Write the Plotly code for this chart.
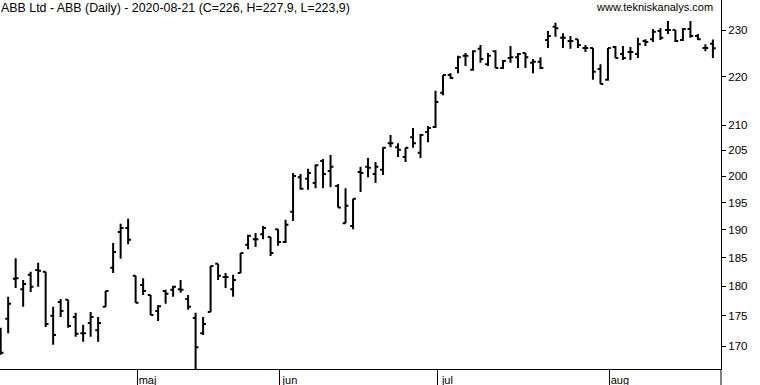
import math
import pandas as pd
import plotly.graph_objects as go

# Trading days (Stockholm), Apr 3 - Aug 21 2020
holidays = ["2020-04-10", "2020-04-13", "2020-05-01", "2020-05-21", "2020-06-19"]
dates = [d.strftime("%Y-%m-%d") for d in pd.bdate_range("2020-04-03", "2020-08-21")
         if d.strftime("%Y-%m-%d") not in holidays]

opens = [172.6, 174.5, 181.3, 179.5, 182.0, 182.8, 182.5, 175.0, 177.3, 177.7, 174.8, 172.1, 173.8, 172.6, 176.5, 183.2, 189.6, 190.3,
         181.8, 180.2, 178.5, 175.8, 179.2, 179.4, 179.5, 177.8, 174.6, 172.1, 175.6, 183.9, 181.6, 179.5, 182.3, 187.3, 188.3, 189.2, 188.7,
         190.1, 187.8, 193.3, 199.8, 199.5, 198.7, 202.9, 201.0, 198.1, 191.2, 190.7, 200.8, 201.8, 200.4, 201.2, 206.4, 205.6, 203.7, 207.6, 204.5, 208.6,
         209.6, 216.6, 220.3, 221.8, 224.4, 221.4, 225.9, 222.6, 225.4, 221.8, 223.9, 224.1, 225.0, 222.9, 223.1, 227.8, 230.7, 228.3, 227.6, 228.0, 226.1, 226.1, 221.6,
         219.3, 226.3, 224.8, 225.2, 224.8, 227.6, 228.0, 229.8, 230.0, 230.0, 227.8, 230.2, 228.7, 226.1, 227.0]
highs = [173.0, 178.2, 184.9, 181.1, 182.5, 184.1, 182.5, 176.5, 177.8, 177.7, 175.5, 173.5, 175.6, 174.8, 179.2, 187.6, 191.1, 192.0,
         181.8, 181.4, 178.5, 176.8, 179.4, 180.1, 181.1, 178.5, 175.5, 174.8, 183.5, 183.9, 182.3, 182.0, 185.8, 189.1, 189.4, 190.7, 188.7,
         190.1, 191.8, 200.6, 200.4, 201.4, 202.3, 203.3, 204.1, 198.5, 197.7, 195.7, 201.8, 203.5, 202.7, 205.6, 208.0, 206.4, 205.5, 209.4, 208.2, 209.8,
         217.0, 220.3, 220.7, 224.4, 225.0, 225.6, 226.7, 225.0, 225.6, 223.5, 226.5, 225.0, 225.0, 223.7, 224.1, 229.8, 231.6, 229.3, 228.7, 228.0, 226.7, 226.1, 222.6,
         226.1, 226.5, 226.5, 226.3, 228.3, 228.0, 230.2, 230.4, 232.0, 230.0, 230.4, 232.0, 229.1, 226.9, 227.9]
lows = [168.6, 172.1, 179.7, 176.5, 179.0, 179.9, 173.1, 170.2, 174.8, 173.0, 171.5, 170.7, 171.5, 170.7, 176.5, 182.3, 184.8, 187.4,
        177.2, 178.5, 175.1, 174.1, 177.0, 178.2, 178.9, 176.0, 166.0, 171.8, 175.6, 181.1, 179.7, 178.2, 182.3, 186.5, 186.9, 188.3, 185.3,
        187.1, 187.6, 191.6, 197.4, 197.4, 197.7, 197.7, 197.9, 194.1, 191.2, 190.1, 197.0, 199.8, 198.7, 200.2, 205.6, 203.7, 202.7, 205.5, 203.5, 206.6,
        209.4, 216.1, 219.5, 220.7, 222.2, 221.2, 222.9, 222.2, 221.8, 221.6, 222.9, 221.8, 221.8, 220.7, 221.6, 226.1, 228.5, 226.1, 225.9, 226.1, 225.2, 219.3, 218.4,
        219.1, 223.9, 223.5, 223.5, 223.9, 226.5, 227.4, 227.8, 229.1, 227.4, 227.6, 228.3, 227.8, 225.4, 223.9]
closes = [168.9, 177.0, 181.4, 180.4, 179.9, 182.7, 173.6, 171.8, 175.8, 173.3, 172.0, 172.1, 174.8, 173.8, 179.2, 186.0, 190.3, 188.2,
          177.2, 179.2, 175.1, 176.6, 178.7, 179.9, 179.4, 176.5, 169.8, 173.6, 183.5, 181.8, 181.6, 181.1, 185.8, 188.9, 188.3, 190.3, 185.8,
          187.8, 190.9, 200.0, 197.6, 200.6, 202.1, 200.4, 201.8, 194.1, 194.4, 195.7, 200.6, 201.6, 201.8, 205.5, 206.4, 205.1, 205.5, 206.4, 208.0, 209.4,
          214.7, 220.3, 219.7, 224.1, 224.4, 225.4, 223.7, 224.4, 221.8, 223.3, 224.1, 224.8, 224.1, 223.1, 221.8, 228.7, 230.4, 228.3, 227.6, 226.7, 226.1, 221.0, 218.4,
          226.1, 223.9, 223.9, 225.2, 226.9, 227.4, 229.6, 228.3, 230.0, 227.6, 230.2, 228.7, 228.0, 226.1, 226.0]

month_labels = ["maj", "jun", "jul", "aug"]
y_ticks = [170, 175, 180, 185, 190, 195, 200, 205, 210, 220, 230]

x_idx = list(range(len(dates)))
month_starts = []
for m in ["2020-05", "2020-06", "2020-07", "2020-08"]:
    month_starts.append(next(i for i, d in enumerate(dates) if d.startswith(m)) + 0.25)


def fmt(v):
    return f"{v:g}".replace(".", ",")


title = (f"ABB Ltd - ABB (Daily) - {dates[-1]} "
         f"(C={fmt(closes[-1])}, H={fmt(highs[-1])}, L={fmt(lows[-1])})")

fig = go.Figure(go.Ohlc(
    x=x_idx, open=opens, high=highs, low=lows, close=closes,
    increasing=dict(line=dict(color="black", width=2)),
    decreasing=dict(line=dict(color="black", width=2)),
    tickwidth=0.38, hoverinfo="skip",
))

font = "Liberation Sans, Arial, sans-serif"
fig.update_layout(
    width=760, height=385,
    margin=dict(l=0, r=39, t=0, b=16, pad=0),
    paper_bgcolor="white", plot_bgcolor="white",
    showlegend=False,
    xaxis=dict(
        range=[-0.09, 96.08], showgrid=False, zeroline=False,
        showline=True, linecolor="black", linewidth=1,
        tickmode="array", tickvals=month_starts, ticktext=month_labels,
        ticks="outside", ticklen=16, tickcolor="black", tickwidth=1,
        ticklabelshift=10, ticklabelstandoff=-15,
        tickfont=dict(family=font, size=11, color="black"),
        rangeslider=dict(visible=False), fixedrange=True,
    ),
    yaxis=dict(
        type="log", side="right",
        range=[math.log10(166.3), math.log10(236.7)],
        showgrid=False, zeroline=False,
        showline=True, linecolor="black", linewidth=1,
        tickmode="array", tickvals=y_ticks, ticktext=[str(t) for t in y_ticks],
        ticks="outside", ticklen=4, tickcolor="black", tickwidth=1,
        tickfont=dict(family=font, size=11.5, color="black"),
        fixedrange=True,
    ),
    annotations=[
        dict(text=title, xref="paper", yref="paper", x=0, y=1, xanchor="left", yanchor="top",
             showarrow=False, font=dict(family=font, size=12.4, color="black"), xshift=-1, yshift=1),
        dict(text="www.tekniskanalys.com", xref="paper", yref="paper", x=1, y=1,
             xanchor="right", yanchor="top", showarrow=False,
             font=dict(family=font, size=11, color="black"), xshift=-6, yshift=1),
    ],
    shapes=[
        dict(type="line", xref="paper", yref="paper", x0=1, x1=1, y0=0, y1=-16 / 369,
             line=dict(color="black", width=1)),
    ],
)

fig.write_html("out.html", config={"displayModeBar": False, "staticPlot": True},
               post_script="document.body.style.margin='0px';")
